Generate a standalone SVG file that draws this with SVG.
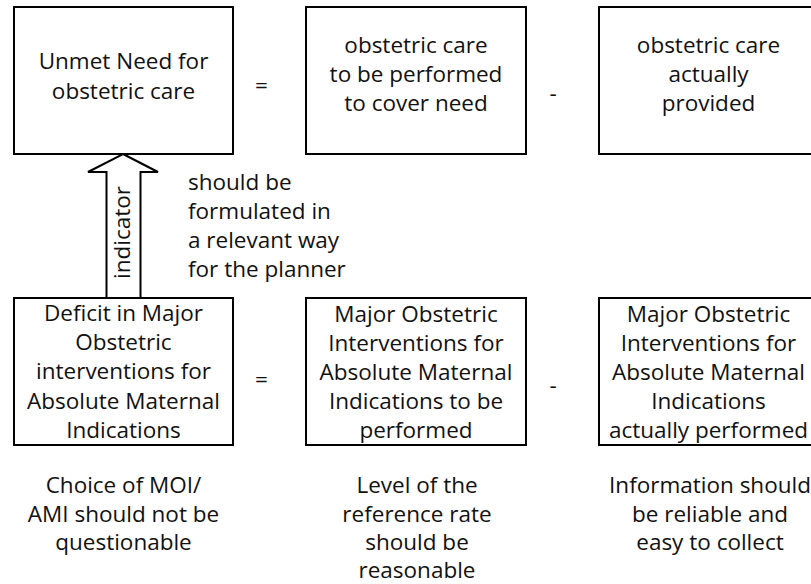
<svg xmlns="http://www.w3.org/2000/svg" width="811" height="584" viewBox="0 0 811 584">
<style>
.box{fill:#fff;stroke:#000;stroke-width:2}
text{font-family:"Open Sans","Noto Sans","DejaVu Sans",sans-serif;font-size:22.5px;fill:#111}
.c{text-anchor:middle}
</style>
<rect width="811" height="584" fill="#fff"/>
<g id="connectors">
<path class="box" d="M123,154 L158,172 L140.5,172 L140.5,298 L106.5,298 L106.5,172 L88,172 Z"/>
<text class="c" transform="translate(129.5,232.5) rotate(-90)">indicator</text>
</g>
<g id="unmet-need">
<rect class="box" x="14" y="7" width="219" height="147"/>
<text class="c" x="123.5" y="69">Unmet Need for</text>
<text class="c" x="123.5" y="99">obstetric care</text>
</g>
<g id="care-to-perform">
<rect class="box" x="306" y="7" width="220" height="147"/>
<text class="c" x="416" y="53">obstetric care</text>
<text class="c" x="416" y="82">to be performed</text>
<text class="c" x="416" y="111">to cover need</text>
</g>
<g id="care-provided">
<rect class="box" x="599" y="7" width="220" height="147"/>
<text class="c" x="708.5" y="53">obstetric care</text>
<text class="c" x="708.5" y="82">actually</text>
<text class="c" x="708.5" y="111">provided</text>
</g>
<g id="ops-top">
<text class="c" x="261.5" y="93">=</text>
<text class="c" x="553" y="101">-</text>
</g>
<g id="formulated-note">
<text x="188" y="190">should be</text>
<text x="188" y="219">formulated in</text>
<text x="188" y="248">a relevant way</text>
<text x="188" y="277">for the planner</text>
</g>
<g id="deficit">
<rect class="box" x="14" y="298" width="219" height="147"/>
<text class="c" x="123.5" y="321">Deficit in Major</text>
<text class="c" x="123.5" y="350">Obstetric</text>
<text class="c" x="123.5" y="379">interventions for</text>
<text class="c" x="123.5" y="409">Absolute Maternal</text>
<text class="c" x="123.5" y="438">Indications</text>
</g>
<g id="moi-to-perform">
<rect class="box" x="306" y="298" width="220" height="147"/>
<text class="c" x="416" y="322">Major Obstetric</text>
<text class="c" x="416" y="351">Interventions for</text>
<text class="c" x="416" y="380">Absolute Maternal</text>
<text class="c" x="416" y="409">Indications to be</text>
<text class="c" x="416" y="438">performed</text>
</g>
<g id="moi-performed">
<rect class="box" x="599" y="298" width="220" height="147"/>
<text class="c" x="708.5" y="322">Major Obstetric</text>
<text class="c" x="708.5" y="351">Interventions for</text>
<text class="c" x="708.5" y="380">Absolute Maternal</text>
<text class="c" x="708.5" y="409">Indications</text>
<text class="c" x="708.5" y="438">actually performed</text>
</g>
<g id="ops-bottom">
<text class="c" x="261.5" y="387">=</text>
<text class="c" x="553" y="393">-</text>
</g>
<g id="note-moi">
<text class="c" x="123.5" y="493">Choice of MOI/</text>
<text class="c" x="123.5" y="522">AMI should not be</text>
<text class="c" x="123.5" y="550">questionable</text>
</g>
<g id="note-rate">
<text class="c" x="417" y="493">Level of the</text>
<text class="c" x="417" y="522">reference rate</text>
<text class="c" x="417" y="550">should be</text>
<text class="c" x="417" y="578">reasonable</text>
</g>
<g id="note-info">
<text class="c" x="710" y="493">Information should</text>
<text class="c" x="710" y="522">be reliable and</text>
<text class="c" x="710" y="550">easy to collect</text>
</g>
</svg>
